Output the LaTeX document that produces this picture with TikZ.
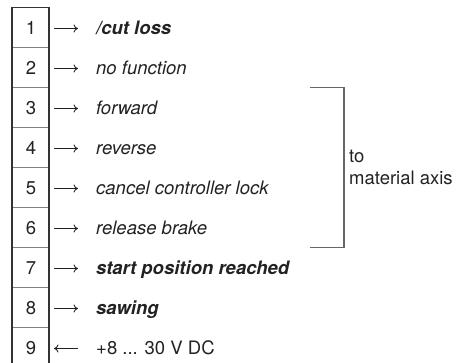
\documentclass[tikz,border=0pt]{standalone}
\usepackage{fontspec}
\setmainfont{TeX Gyre Heros}
\usetikzlibrary{arrows.meta}
\definecolor{txt}{HTML}{222222}
\definecolor{frame}{HTML}{333333}
\definecolor{divider}{HTML}{808080}
\definecolor{brk}{HTML}{666666}
\tikzset{
  lbl/.style={anchor=base west, inner sep=0pt, text=txt, font=\fontsize{18.5}{22}\selectfont},
  num/.style={anchor=base, inner sep=0pt, text=txt, font=\fontsize{18.5}{22}\selectfont},
  conn/.style={line width=0.9pt, draw=txt, -{To[length=4.5pt,width=8pt]}},
  connback/.style={line width=0.9pt, draw=txt, {To[length=4.5pt,width=8pt]}-},
  divline/.style={line width=1pt, draw=divider},
  outline/.style={line width=1.4pt, draw=frame},
  bracketline/.style={line width=1.1pt, draw=brk}
}
\begin{document}
\begin{tikzpicture}[x=1pt,y=-1pt]
\useasboundingbox (0,0) rectangle (461,363);
\clip (0,0) rectangle (461,363);
% dividers
\foreach \k in {1,...,8} {
  \draw[divline] (12,{7.5+40*\k}) -- (49,{7.5+40*\k});
}
% outer box
\draw[outline] (12,7.5) rectangle (49,372);
% numbers, arrows, labels
\foreach \k/\t/\f in {1/{/cut loss}/\bfseries\itshape, 2/{no function}/\itshape, 3/{forward}/\itshape, 4/{reverse}/\itshape, 5/{cancel controller lock}/\itshape, 6/{release brake}/\itshape, 7/{start position reached}/\bfseries\itshape, 8/{sawing}/\bfseries\itshape} {
  \node[num] (n\k) at (31,{34.5+40*(\k-1)}) {\k};
  \coordinate (a\k) at (54,{28.5+40*(\k-1)});
  \coordinate (b\k) at (78,{28.5+40*(\k-1)});
  \draw[conn] (a\k) -- (b\k);
  \node[lbl] (t\k) at (96,{34.5+40*(\k-1)}) {\f\t};
}
\node[num] (n9) at (31,354.5) {9};
\coordinate (a9) at (54,348.5);
\coordinate (b9) at (78,348.5);
\draw[connback] (a9) -- (b9);
\node[lbl] (t9) at (96,354.5) {+8 ... 30 V DC};
% bracket
\coordinate (bt1) at (310,87.5);
\coordinate (bt2) at (344,87.5);
\coordinate (bb2) at (344,247.5);
\coordinate (bb1) at (310,247.5);
\draw[bracketline] (bt1) -- (bt2) -- (bb2) -- (bb1);
\node[lbl] (to) at (349,163) {to};
\node[lbl] (ma) at (349,185) {material axis};
\end{tikzpicture}
\end{document}
